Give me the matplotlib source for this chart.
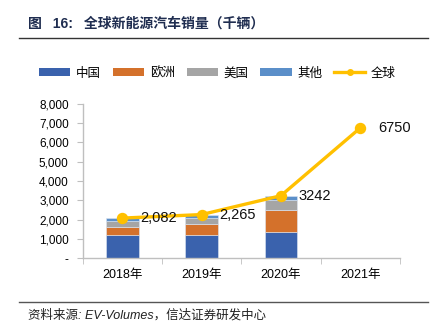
import matplotlib
matplotlib.use("Agg")
import matplotlib.pyplot as plt
from matplotlib.lines import Line2D
from matplotlib.patches import Patch
import numpy as np

plt.rcParams['font.family'] = ['Liberation Sans', 'Noto Sans CJK SC', 'DejaVu Sans']

years = ["2018年", "2019年", "2020年", "2021年"]
china = [1200, 1200, 1370, 0]
europe = [400, 580, 1140, 0]
usa = [340, 330, 500, 0]
other = [142, 155, 232, 0]
total = [2082, 2265, 3242, 6750]
total_labels = ["2,082", "2,265", "3242", "6750"]
series_names = ["中国", "欧洲", "美国", "其他", "全球"]

colors = ["#3A62AD", "#D4712B", "#A5A5A5", "#5B8FC9"]
line_color = "#FFC000"

fig = plt.figure(figsize=(4.37, 3.35), dpi=100)
ax = fig.add_axes([0.189, 0.229, 0.726, 0.461])

x = np.arange(len(years))
n_bar = 3
bottom = np.zeros(n_bar)
for vals, c in zip([china, europe, usa, other], colors):
    v = np.array(vals[:n_bar])
    ax.bar(x[:n_bar], v, bottom=bottom, width=0.41, color=c,
           edgecolor="#DDE6F2", linewidth=0.4, zorder=2)
    bottom += v

ax.plot(x, total, color=line_color, lw=2.4, marker="o", markersize=7.2, zorder=3)
for xi, yi, lab in zip(x, total, total_labels):
    ax.annotate(lab, (xi, yi), xytext=(13, 0), textcoords="offset points",
                va="center", ha="left", fontsize=10.5, color="#111111", zorder=4)

ax.set_xlim(-0.5, 3.5)
ax.set_ylim(0, 8000)
ax.set_yticks(np.arange(0, 8001, 1000))
ax.set_yticklabels(["-"] + [f"{v:,}" for v in range(1000, 8001, 1000)], fontsize=8.5)
ax.set_xticks(x)
ax.set_xticklabels(years, fontsize=9, family=['Liberation Sans', 'Noto Sans CJK SC'])
ax.set_xticks(np.arange(-0.5, 3.6, 1), minor=True)
ax.tick_params(axis="x", which="major", length=0, pad=8)
ax.tick_params(axis="x", which="minor", length=4, color="#BFBFBF", direction="out")
ax.tick_params(axis="y", length=4, color="#BFBFBF", direction="out", pad=6)
for s in ["top", "right"]:
    ax.spines[s].set_visible(False)
for s in ["left", "bottom"]:
    ax.spines[s].set_color("#BFBFBF")
    ax.spines[s].set_linewidth(1.0)

# Legend
handles = [Patch(facecolor=c, edgecolor="none") for c in colors]
handles.append(Line2D([0], [0], color=line_color, lw=2.4, marker="o", markersize=4))
fig.legend(handles, series_names, loc="center", bbox_to_anchor=(0.498, 0.782), ncol=5,
           frameon=False, handlelength=2.5, handleheight=0.6,
           columnspacing=0.95, handletextpad=0.45,
           prop={'family': ['Noto Sans CJK SC'], 'size': 9})

# Title
fig.text(0.064, 0.931, "图\u2002 16:\u2002 全球新能源汽车销量（千辆）", fontsize=10, fontweight="bold",
         color="#1F2D50", ha="left", va="center",
         family=['Liberation Sans', 'Noto Sans CJK SC', 'DejaVu Sans'])
fig.add_artist(Line2D([0.043, 0.98], [0.886, 0.886], color="#333333", lw=1.0))

# Source
fig.add_artist(Line2D([0.043, 0.98], [0.099, 0.099], color="#555555", lw=1.0))
fig.text(0.064, 0.058, "资料来源: EV-Volumes，信达证券研发中心", fontsize=9, style="italic",
         color="#222222", ha="left", va="center",
         family=['Liberation Sans', 'Noto Sans CJK SC', 'DejaVu Sans'])

fig.savefig("out.png", dpi=100)
